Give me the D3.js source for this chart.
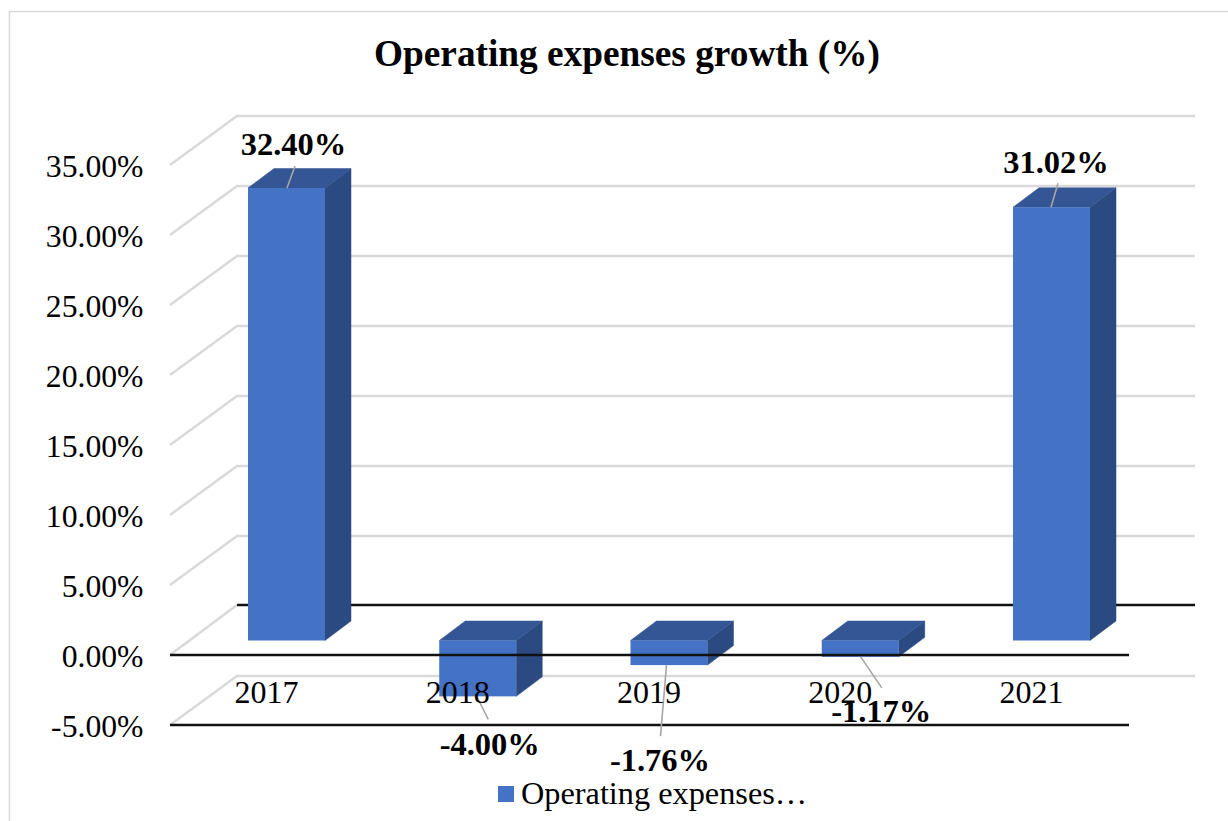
<!DOCTYPE html>
<html><head><meta charset="utf-8">
<script src="https://cdn.jsdelivr.net/npm/d3@7"></script>
<style>html,body{margin:0;padding:0;background:#fff}svg{display:block}text{font-family:"Liberation Serif",serif;fill:#000}</style>
</head><body><svg id="c" width="1228" height="821"></svg>
<script>
const categories = ["2017","2018","2019","2020","2021"];
const growth = [32.40,-4.00,-1.76,-1.17,31.02];
const tickValues = [-5,0,5,10,15,20,25,30,35];
const chartTitle = "Operating expenses growth (%)";
const legendLabel = "Operating expenses…";

const svg = d3.select("#c");
const fmt = v => (v<0?"-":"") + d3.format(".2f")(Math.abs(v)) + "%";

const front = {x0:170, x1:1129};
const depth = {dx:67, dy:-50};
const y = d3.scaleLinear().domain([-5,35]).range([725,165]);
const barY = d3.scaleLinear().domain([0,32.4]).range([640.5,188]);
const xStep = 191.25;
const xPos = c => 248 + categories.indexOf(c)*xStep;
const barW = 77, bd = {dx:26, dy:-19.5};
const gridColor = "#D9D9D9";

// chart frame
svg.append("path").attr("d","M9.5 821V11.5H1228").attr("fill","none").attr("stroke","#D9D9D9").attr("stroke-width",1.5);

// title
svg.append("text").attr("x",627).attr("y",66).attr("text-anchor","middle")
  .style("font-size","37.3px").style("font-weight","bold").text(chartTitle);

// gridlines
const grid = svg.append("g").attr("fill","none").attr("stroke",gridColor).attr("stroke-width",2.5);
grid.selectAll("path").data(tickValues.filter(v=>v!==0)).join("path")
  .attr("d",v=>`M${front.x0} ${y(v)}L${front.x0+depth.dx} ${y(v)+depth.dy+1}H1195`);
grid.append("path").attr("d",`M${front.x0} ${y(0)}L${front.x0+depth.dx} ${y(0)+depth.dy}`);

// back-wall zero line
svg.append("line").attr("x1",front.x0+depth.dx).attr("x2",1195).attr("y1",y(0)+depth.dy).attr("y2",y(0)+depth.dy)
  .attr("stroke","#111").attr("stroke-width",2.4);

// bars
const bars = svg.append("g").selectAll("g").data(categories).join("g");
bars.each(function(c,i){
  const g = d3.select(this), v = growth[i], l = xPos(c), r = l+barW;
  const top = barY(Math.max(v,0)), bot = barY(Math.min(v,0));
  g.append("path").attr("fill","#2B4A82").attr("stroke","#2B4A82").attr("stroke-width",.5)
    .attr("d",`M${r} ${top}l${bd.dx} ${bd.dy}V${bot+bd.dy}L${r} ${bot}Z`);
  g.append("path").attr("fill","#345694").attr("stroke","#345694").attr("stroke-width",.5)
    .attr("d",`M${l} ${top}l${bd.dx} ${bd.dy}H${r+bd.dx}L${r} ${top}Z`);
  g.append("rect").attr("x",l).attr("y",top).attr("width",barW).attr("height",bot-top).attr("fill","#4472C4");
});

// front horizontal black lines
svg.append("g").selectAll("line").data([0,-5]).join("line")
  .attr("x1",front.x0).attr("x2",front.x1).attr("y1",d=>y(d)).attr("y2",d=>y(d))
  .attr("stroke","#111").attr("stroke-width",2.4);

// y-axis labels
svg.append("g").selectAll("text").data(tickValues).join("text")
  .attr("x",143.5).attr("y",v=>y(v)+12).attr("text-anchor","end")
  .style("font-size","31.7px").text(fmt);

// leader lines and value labels (layout offsets relative to each bar edge)
const leaderLayout = [
  {from:[39,0],to:[47,-22],label:[45.5,-33]},
  {from:[38,1],to:[49,23],label:[50.5,59]},
  {from:[36,0],to:[30,71],label:[29.5,106]},
  {from:[39,0],to:[60,31],label:[59.5,65]},
  {from:[38,0],to:[45,-24],label:[43,-34]}
];
const lab = svg.append("g");
categories.forEach((c,i)=>{
  const v = growth[i], l = xPos(c), edge = barY(v);
  const a = leaderLayout[i];
  lab.append("line").attr("x1",l+a.from[0]).attr("y1",edge+a.from[1])
    .attr("x2",l+a.to[0]).attr("y2",edge+a.to[1]).attr("stroke","#A6A6A6").attr("stroke-width",1.6);
});
// category labels
svg.append("g").selectAll("text").data(categories).join("text")
  .attr("x",c=>xPos(c)+18.5).attr("y",703).attr("text-anchor","middle")
  .style("font-size","32px").text(d=>d);
categories.forEach((c,i)=>{
  const v = growth[i], l = xPos(c), a = leaderLayout[i];
  svg.append("text").attr("x",l+a.label[0]).attr("y",barY(v)+a.label[1]).attr("text-anchor","middle")
    .style("font-size","32.5px").style("font-weight","bold").text(fmt(v));
});

// legend
svg.append("rect").attr("x",498).attr("y",786).attr("width",16).attr("height",16).attr("fill","#4472C4");
svg.append("text").attr("x",521).attr("y",804).style("font-size","32.3px").text(legendLabel);
</script></body></html>
